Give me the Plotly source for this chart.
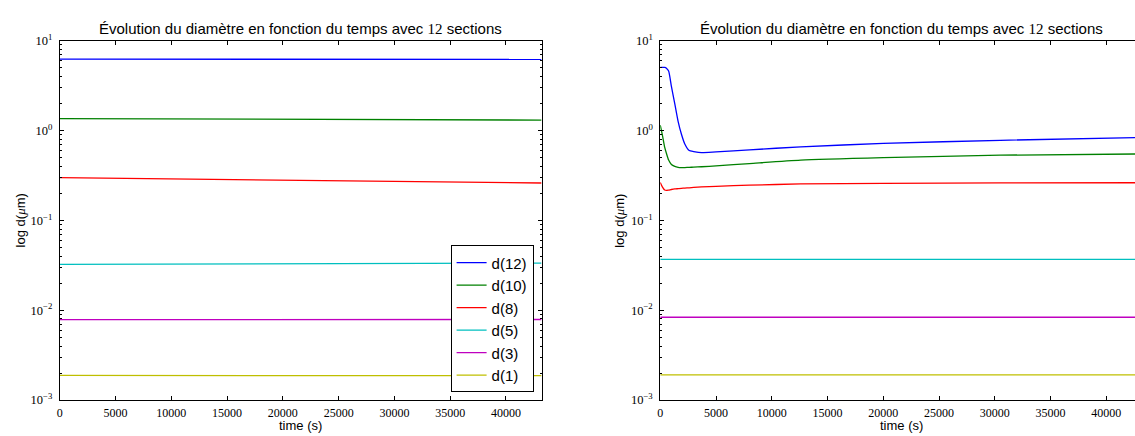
import plotly.graph_objects as go

# ---- data -------------------------------------------------------------
labels = ["d(12)", "d(10)", "d(8)", "d(5)", "d(3)", "d(1)"]
colors = ["#0000ff", "#008000", "#ff0000", "#00bfbf", "#bf00bf", "#bfbf00"]

# left run: diameters barely move over 12 h
t_left = [0, 10000, 20000, 30000, 43200]
left_d12 = [6.25, 6.24, 6.23, 6.22, 6.20]
left_d10 = [1.36, 1.35, 1.34, 1.325, 1.31]
left_d8 = [0.299, 0.289, 0.279, 0.270, 0.261]
left_d5 = [0.0324, 0.0327, 0.0330, 0.0332, 0.0335]
left_d3 = [0.00788, 0.00788, 0.00789, 0.00789, 0.00789]
left_d1 = [0.00188, 0.00188, 0.00188, 0.00187, 0.00187]

# right run: fast initial transient of the large sections
t_right = [0, 200, 400, 550, 750, 1000, 1300, 1600, 1900, 2200, 2600, 3000,
           3700, 5000, 8000, 12600, 20000, 30500, 43200]
right_d12 = [5.05, 5.06, 5.05, 4.95, 4.60, 3.10, 2.00, 1.27, 0.91, 0.71, 0.60,
             0.585, 0.57, 0.58, 0.61, 0.66, 0.72, 0.78, 0.84]
right_d10 = [1.15, 0.88, 0.65, 0.56, 0.47, 0.42, 0.40, 0.39, 0.387, 0.388, 0.39,
             0.392, 0.396, 0.405, 0.43, 0.47, 0.50, 0.533, 0.55]
right_d8 = [0.265, 0.235, 0.218, 0.216, 0.218, 0.221, 0.224, 0.226, 0.228, 0.229,
            0.231, 0.233, 0.236, 0.240, 0.247, 0.255, 0.259, 0.262, 0.263]
right_d5 = [0.0368] * len(t_right)
right_d3 = [0.00836] * len(t_right)
right_d1 = [0.00191] * len(t_right)

left_series = [left_d12, left_d10, left_d8, left_d5, left_d3, left_d1]
right_series = [right_d12, right_d10, right_d8, right_d5, right_d3, right_d1]

y_tickvals = [1e-3, 1e-2, 1e-1, 1e0, 1e1]
y_ticktext = ["10<sup>−3</sup>", "10<sup>−2</sup>", "10<sup>−1</sup>",
              "10<sup>0</sup>", "10<sup>1</sup>"]
x_tickvals = [0, 5000, 10000, 15000, 20000, 25000, 30000, 35000, 40000]

# ---- figure -----------------------------------------------------------
W, H = 1135, 436
SERIF = "Liberation Serif"
SANS = "Liberation Sans, Arial, sans-serif"

fig = go.Figure()
for i, (lab, col) in enumerate(zip(labels, colors)):
    fig.add_trace(go.Scatter(x=t_left, y=left_series[i], mode="lines", name=lab,
                             line=dict(color=col, width=1.3),
                             legendgroup=lab, xaxis="x", yaxis="y"))
for i, (lab, col) in enumerate(zip(labels, colors)):
    fig.add_trace(go.Scatter(x=t_right, y=right_series[i], mode="lines", name=lab,
                             line=dict(color=col, width=1.3, shape="spline", smoothing=0.6),
                             showlegend=False, xaxis="x2", yaxis="y2"))

# panel geometry in pixels
L1, R1 = 57, 540
L2, R2 = 659, 1142
TOP, BOT = 33, 406


def px(x):
    return x / W


def py(y):
    return (H - y) / H


minor_vals = [k * 10 ** e for e in range(-3, 1) for k in range(2, 10)]

common_x = dict(showgrid=False, zeroline=False, showline=True, linecolor="black",
                linewidth=1, ticks="inside", ticklen=4, tickcolor="black",
                tickvals=x_tickvals, ticktext=[str(v) for v in x_tickvals],
                tickfont=dict(family=SERIF, size=12, color="black"),
                ticklabelstandoff=1, mirror="allticks")
common_y = dict(type="log", range=[-3, 1], showgrid=False, zeroline=False,
                showline=True, linecolor="black", linewidth=1, ticks="inside",
                ticklen=4, tickcolor="black", tickvals=y_tickvals,
                ticktext=y_ticktext, ticklabelstandoff=4,
                tickfont=dict(family=SERIF, size=12.5, color="black"),
                minor=dict(ticks="inside", ticklen=2, tickcolor="black",
                           tickvals=minor_vals, showgrid=False))

right_visible_max = 43200 * (W - L2) / (R2 - L2)

fig.update_layout(
    width=W, height=H,
    margin=dict(l=0, r=0, t=0, b=0),
    paper_bgcolor="white", plot_bgcolor="white",
    xaxis=dict(domain=[px(L1), px(R1)], range=[0, 43200], anchor="y", **common_x),
    yaxis=dict(domain=[py(BOT), py(TOP)], anchor="x", mirror="allticks", **common_y),
    xaxis2=dict(domain=[px(L2), 1.0], range=[0, right_visible_max], anchor="y2",
                **common_x),
    yaxis2=dict(domain=[py(BOT), py(TOP)], anchor="x2", mirror=False, **common_y),
    showlegend=True,
    legend=dict(x=px(532), y=py(398), xanchor="right", yanchor="bottom",
                bgcolor="white", bordercolor="black", borderwidth=1,
                font=dict(family=SANS, size=15, color="black"),
                tracegroupgap=0, itemwidth=30),
)

title_txt = ("Évolution du diamètre en fonction du temps avec "
             f"<span style='font-family:{SERIF}'>12</span> sections")
ylab_txt = f"log d(<span style='font-family:{SERIF}'><i>μ</i></span>m)"

annots = []
for cx in [(L1 + R1) / 2, (L2 + R2) / 2]:
    annots.append(dict(x=px(cx), y=py(20), xref="paper", yref="paper",
                       text=title_txt, showarrow=False, xanchor="center",
                       yanchor="middle",
                       font=dict(family=SANS, size=15, color="black")))
    annots.append(dict(x=px(cx), y=py(424), xref="paper", yref="paper",
                       text="time (s)", showarrow=False, xanchor="center",
                       yanchor="top", borderpad=0,
                       font=dict(family=SANS, size=13, color="black")))
for lx in [17, 618]:
    annots.append(dict(x=px(lx), y=py((TOP + BOT) / 2), xref="paper", yref="paper",
                       text=ylab_txt, showarrow=False, textangle=-90,
                       xanchor="center", yanchor="middle",
                       font=dict(family=SANS, size=13, color="black")))
fig.update_layout(annotations=annots)

fig.write_html("out.html")
